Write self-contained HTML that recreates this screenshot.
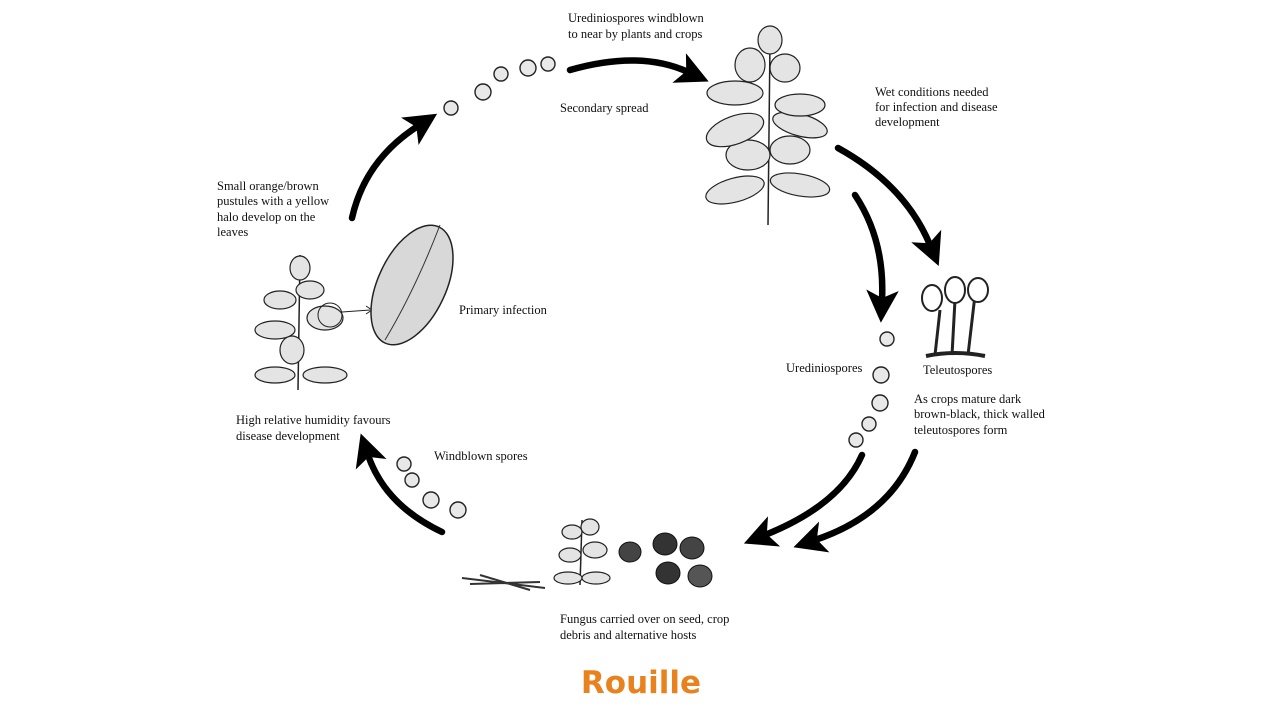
<!DOCTYPE html>
<html><head><meta charset="utf-8"><style>
html,body{margin:0;padding:0;background:#fff;}
svg{display:block}
text{font-family:"Liberation Serif",serif;font-size:12.5px;fill:#111}
.lf{fill:#e4e4e4;stroke:#222;stroke-width:1.2}
.st{fill:none;stroke:#222;stroke-width:1.5}
.sp{fill:#e8e8e8;stroke:#222;stroke-width:1.4}
.ar{fill:none;stroke:#000;stroke-width:6.5;stroke-linecap:round}
</style></head><body>
<svg width="1280" height="720" viewBox="0 0 1280 720">
<defs>
<marker id="h" markerWidth="5" markerHeight="5" refX="1.5" refY="2.5" orient="auto" markerUnits="strokeWidth">
<path d="M0,0 L5,2.5 L0,5 L1.2,2.5 Z" fill="#000"/></marker>
</defs>

<path class="ar" d="M570,70 Q640,50 688,72" marker-end="url(#h)"/>
<path class="ar" d="M352,218 Q365,160 418,126" marker-end="url(#h)"/>
<path class="ar" d="M838,148 Q905,185 930,245" marker-end="url(#h)"/>
<path class="ar" d="M855,195 Q885,240 882,300" marker-end="url(#h)"/>
<path class="ar" d="M862,455 Q840,505 765,535" marker-end="url(#h)"/>
<path class="ar" d="M915,452 Q890,515 815,540" marker-end="url(#h)"/>
<path class="ar" d="M442,532 Q385,505 368,455" marker-end="url(#h)"/>

<circle class="sp" cx="451" cy="108" r="7"/>
<circle class="sp" cx="483" cy="92" r="8"/>
<circle class="sp" cx="501" cy="74" r="7"/>
<circle class="sp" cx="528" cy="68" r="8"/>
<circle class="sp" cx="548" cy="64" r="7"/>

<circle class="sp" cx="887" cy="339" r="7"/>
<circle class="sp" cx="881" cy="375" r="8"/>
<circle class="sp" cx="880" cy="403" r="8"/>
<circle class="sp" cx="869" cy="424" r="7"/>
<circle class="sp" cx="856" cy="440" r="7"/>

<circle class="sp" cx="404" cy="464" r="7"/>
<circle class="sp" cx="412" cy="480" r="7"/>
<circle class="sp" cx="431" cy="500" r="8"/>
<circle class="sp" cx="458" cy="510" r="8"/>

<ellipse cx="630" cy="552" rx="11" ry="10" fill="#444" stroke="#111"/>
<ellipse cx="665" cy="544" rx="12" ry="11" fill="#333" stroke="#111"/>
<ellipse cx="692" cy="548" rx="12" ry="11" fill="#444" stroke="#111"/>
<ellipse cx="668" cy="573" rx="12" ry="11" fill="#333" stroke="#111"/>
<ellipse cx="700" cy="576" rx="12" ry="11" fill="#555" stroke="#111"/>
<path d="M462,578 L545,588 M470,584 L540,582 M480,575 L530,590" stroke="#333" stroke-width="2"/>

<path class="st" d="M768,225 L770,40"/>
<ellipse class="lf" cx="735" cy="190" rx="30" ry="12" transform="rotate(-15 735 190)"/>
<ellipse class="lf" cx="800" cy="185" rx="30" ry="11" transform="rotate(10 800 185)"/>
<ellipse class="lf" cx="748" cy="155" rx="22" ry="15"/>
<ellipse class="lf" cx="790" cy="150" rx="20" ry="14"/>
<ellipse class="lf" cx="735" cy="130" rx="30" ry="14" transform="rotate(-20 735 130)"/>
<ellipse class="lf" cx="800" cy="125" rx="28" ry="11" transform="rotate(15 800 125)"/>
<ellipse class="lf" cx="735" cy="93" rx="28" ry="12"/>
<ellipse class="lf" cx="800" cy="105" rx="25" ry="11"/>
<ellipse class="lf" cx="750" cy="65" rx="15" ry="17"/>
<ellipse class="lf" cx="785" cy="68" rx="15" ry="14"/>
<ellipse class="lf" cx="770" cy="40" rx="12" ry="14"/>

<path class="st" d="M298,390 L300,255"/>
<ellipse class="lf" cx="275" cy="375" rx="20" ry="8"/>
<ellipse class="lf" cx="325" cy="375" rx="22" ry="8"/>
<ellipse class="lf" cx="292" cy="350" rx="12" ry="14"/>
<ellipse class="lf" cx="275" cy="330" rx="20" ry="9"/>
<ellipse class="lf" cx="325" cy="318" rx="18" ry="12"/>
<ellipse class="lf" cx="280" cy="300" rx="16" ry="9"/>
<ellipse class="lf" cx="310" cy="290" rx="14" ry="9"/>
<ellipse class="lf" cx="300" cy="268" rx="10" ry="12"/>
<circle cx="330" cy="315" r="12" fill="none" stroke="#222"/>
<path d="M342,312 L370,310" stroke="#222" stroke-width="1"/>
<path d="M366,306 L372,310 L366,314" fill="none" stroke="#222"/>
<ellipse cx="412" cy="285" rx="34" ry="64" transform="rotate(25 412 285)" fill="#d8d8d8" stroke="#222" stroke-width="1.5"/>
<path d="M385,340 Q415,290 440,225" stroke="#333" fill="none"/>

<path class="st" d="M580,585 L582,520"/>
<ellipse class="lf" cx="568" cy="578" rx="14" ry="6"/>
<ellipse class="lf" cx="596" cy="578" rx="14" ry="6"/>
<ellipse class="lf" cx="570" cy="555" rx="11" ry="7"/>
<ellipse class="lf" cx="595" cy="550" rx="12" ry="8"/>
<ellipse class="lf" cx="572" cy="532" rx="10" ry="7"/>
<ellipse class="lf" cx="590" cy="527" rx="9" ry="8"/>

<path d="M935,355 L940,310 M952,355 L955,300 M968,355 L975,295" stroke="#222" stroke-width="3" fill="none"/>
<ellipse cx="932" cy="298" rx="10" ry="13" fill="#fff" stroke="#222" stroke-width="2"/>
<ellipse cx="955" cy="290" rx="10" ry="13" fill="#fff" stroke="#222" stroke-width="2"/>
<ellipse cx="978" cy="290" rx="10" ry="12" fill="#fff" stroke="#222" stroke-width="2"/>
<path d="M926,356 Q955,350 985,356" stroke="#222" stroke-width="4" fill="none"/>

<text x="568" y="22">Urediniospores windblown</text>
<text x="568" y="38">to near by plants and crops</text>
<text x="560" y="112">Secondary spread</text>
<text x="875" y="96">Wet conditions needed</text>
<text x="875" y="111">for infection and disease</text>
<text x="875" y="126">development</text>
<text x="217" y="190">Small orange/brown</text>
<text x="217" y="205">pustules with a yellow</text>
<text x="217" y="221">halo develop on the</text>
<text x="217" y="236">leaves</text>
<text x="459" y="314">Primary infection</text>
<text x="786" y="372">Urediniospores</text>
<text x="923" y="374">Teleutospores</text>
<text x="914" y="403">As crops mature dark</text>
<text x="914" y="418">brown-black, thick walled</text>
<text x="914" y="434">teleutospores form</text>
<text x="236" y="424">High relative humidity favours</text>
<text x="236" y="440">disease development</text>
<text x="434" y="460">Windblown spores</text>
<text x="560" y="623">Fungus carried over on seed, crop</text>
<text x="560" y="639">debris and alternative hosts</text>
<text x="641" y="693" text-anchor="middle" style="font-family:'DejaVu Sans','Liberation Sans',sans-serif;font-size:31px;font-weight:bold;fill:#e8821e">Rouille</text>
</svg>
</body></html>
